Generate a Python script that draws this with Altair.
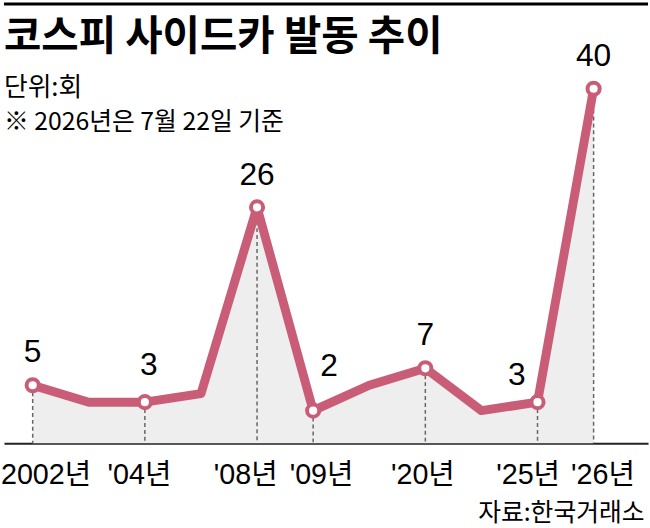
import json
import altair as alt
import pandas as pd

# ---- data ----
title_text = "코스피 사이드카 발동 추이"
unit_text = "단위:회"
note_text = "※ 2026년은 7월 22일 기준"
source_text = "자료:한국거래소"

idx = list(range(11))
labels = ["2002년", "", "'04년", "", "'08년", "'09년", "", "'20년", "", "'25년", "'26년"]
values = [5, 3, 3, 4, 26, 2, 5, 7, 2, 3, 40]

df = pd.DataFrame({"i": idx, "label": labels, "v": values})
df["shown"] = df["label"] != ""

# ---- style ----
LINE = "#c95d78"
AREA = "#eeeeee"
NUM_FONT = "Liberation Sans, Arial, Noto Sans CJK KR"
KR_FONT = "Noto Sans CJK KR"
W, H = 650, 445
Y_MIN, Y_MAX = -1.86, 50.19

tick_vals = [i for i, l in zip(idx, labels) if l]
label_offsets = {0: 13, 2: -6, 4: -12, 5: 8, 7: -3, 9: -10, 10: 9}

x_axis = alt.Axis(
    values=tick_vals,
    labelExpr=json.dumps(labels, ensure_ascii=False) + "[datum.value]",
    ticks=False,
    grid=False,
    domain=True,
    domainColor="#222222",
    domainWidth=2,
    labelFont=NUM_FONT,
    labelFontSize=29,
    labelColor="black",
    labelBaseline="middle",
    labelPadding=32,
    labelOffset={
        "condition": [{"test": f"datum.value=={k}", "value": v} for k, v in label_offsets.items()],
        "value": 0,
    },
    labelFlush=False,
    labelOverlap=False,
    title=source_text,
    titleFont=KR_FONT,
    titleFontSize=25,
    titleFontWeight="normal",
    titleColor="black",
    titleAlign="right",
    titleBaseline="middle",
    titleX=W - 4,
    titleY=70,
)

x = alt.X("i:Q", scale=alt.Scale(domain=[-0.512, 10.97], nice=False, zero=False), axis=x_axis)
y = alt.Y("v:Q", scale=alt.Scale(domain=[Y_MIN, Y_MAX], nice=False, zero=False), axis=None)

base = alt.Chart(df)

area = base.mark_area(color=AREA, opacity=1).encode(x=x, y=y, y2=alt.datum(Y_MIN))

drops = base.mark_rule(color="#666666", strokeWidth=1.5, strokeDash=[4, 3]).encode(
    x=x, y=y, y2=alt.datum(Y_MIN)
).transform_filter("datum.shown")

line = base.mark_line(color=LINE, strokeWidth=9, strokeJoin="round").encode(x=x, y=y)

dots = base.mark_circle(size=150, fill="white", stroke=LINE, strokeWidth=4, opacity=1).encode(
    x=x, y=y
).transform_filter("datum.shown")

def value_text(filter_expr, dx=0, dy=-33):
    return base.mark_text(
        font=NUM_FONT, fontSize=32, color="black", baseline="middle", align="center", dx=dx, dy=dy
    ).encode(x=x, y=y, text="v:Q").transform_filter(filter_expr)

txt_main = value_text("datum.shown && datum.i != 2 && datum.i != 5 && datum.i != 9")
txt_04 = value_text("datum.i == 2", dx=4, dy=-37)
txt_09 = value_text("datum.i == 5", dx=16, dy=-45)
txt_25 = value_text("datum.i == 9", dx=-21, dy=-27)

def heading(text, yv, size, weight="normal"):
    return alt.Chart(pd.DataFrame({"t": [text]})).mark_text(
        align="left", baseline="middle", font=KR_FONT, fontSize=size, fontWeight=weight, color="black"
    ).encode(x=alt.value(0), y=alt.value(yv), text="t:N")

top_bar = alt.Chart(pd.DataFrame({"a": [0]})).mark_rule(color="black", strokeWidth=3).encode(
    x=alt.value(0), x2=alt.value(W), y=alt.value(1.5)
)

chart = alt.layer(
    area, drops, line, dots, txt_main, txt_04, txt_09, txt_25,
    heading(title_text, 36, 41, "bold"),
    heading(unit_text, 86, 26),
    heading(note_text, 121, 25),
    top_bar,
).properties(width=W, height=H, padding=0, background="white").configure_view(stroke=None)

chart.save("out.html", embed_options={"renderer": "svg", "actions": False})
